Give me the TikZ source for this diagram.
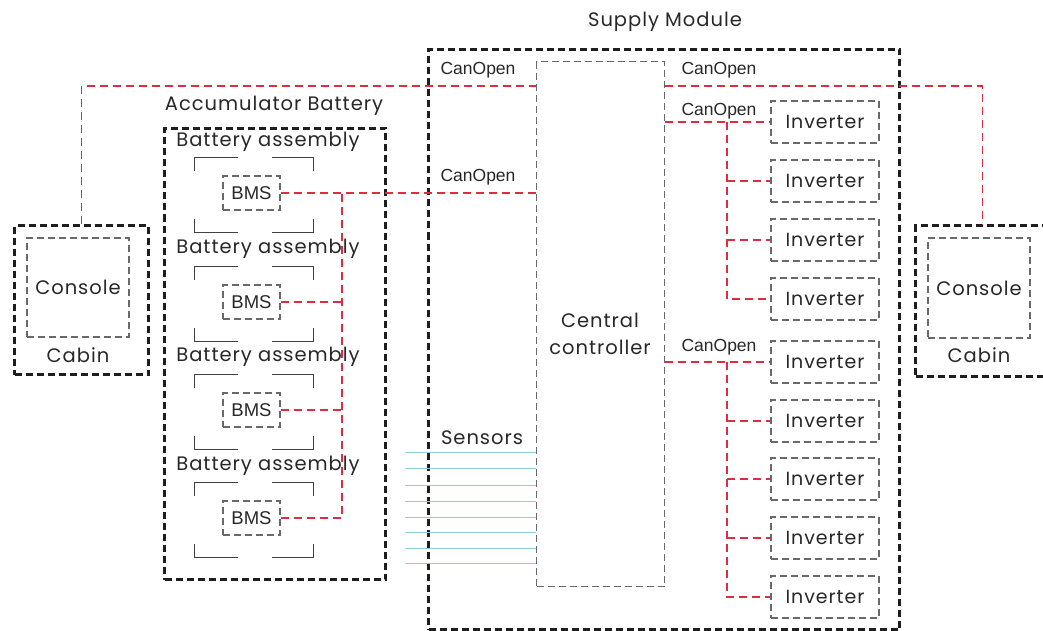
\documentclass[tikz,border=0pt]{standalone}
\usepackage{fontspec}
\setmainfont[LetterSpace=5]{Poppins}
\newfontfamily\arialf{Liberation Sans}
\usetikzlibrary{calc}
\definecolor{canred}{RGB}{222,45,65}
\definecolor{boxblack}{RGB}{30,30,30}
\definecolor{boxgray}{RGB}{105,105,105}
\definecolor{sensblue}{RGB}{150,205,220}
\definecolor{txt}{RGB}{40,40,40}
\tikzset{
  outerbox/.style={draw=boxblack, line width=3pt, dash pattern=on 7pt off 4pt, inner sep=0pt, anchor=north west},
  graybox/.style={draw=boxgray, line width=1.3pt, dash pattern=on 7pt off 4pt, inner sep=0pt},
  can/.style={draw=canred, line width=1.5pt, dash pattern=on 8pt off 5pt},
  sensor/.style={draw=sensblue, line width=1pt},
  bracket/.style={draw=black!75, line width=1.3pt},
  lbl/.style={text=txt, font=\fontsize{19.5}{21}\selectfont, inner sep=0pt},
  canlbl/.style={text=txt, font=\arialf\fontsize{17.5}{19}\selectfont, inner sep=0pt},
  inv/.style={graybox, minimum width=108pt, minimum height=42pt, text=txt, font=\fontsize{19}{21}\selectfont},
  bms/.style={graybox, minimum width=57pt, minimum height=34pt, text=txt, font=\arialf\fontsize{18.5}{20}\selectfont},
  assembly/.style={inner sep=0pt, minimum width=118pt, minimum height=74pt},
}
\begin{document}
\begin{tikzpicture}[x=1pt,y=-1pt]
\useasboundingbox (0,0) rectangle (1043,631);
\clip (0,0) rectangle (1043,631);
\fill[white] (0,0) rectangle (1043,631);

% Supply module
\node[lbl] (suplbl) at (665,22) {Supply Module};
\node[outerbox, minimum width=471pt, minimum height=580pt] (supply) at (427,48) {};
\node[graybox, anchor=north west, minimum width=128pt, minimum height=525pt] (cc) at (536,61) {};
\node[lbl, align=center, font=\fontsize{19.5}{27}\selectfont] (cctext) at (600,334) {Central\\controller};

% Accumulator battery
\node[lbl] (acclbl) at (274,106) {Accumulator Battery};
\node[outerbox, minimum width=221pt, minimum height=451pt] (acc) at (163,127) {};

\foreach \i/\y in {1/195,2/304,3/412,4/520}{
  \node[assembly] (ba\i) at (254,\y) {};
  \draw[bracket] ([yshift=-13pt]ba\i.north west) |- ([xshift=43pt]ba\i.north west);
  \draw[bracket] ([yshift=-13pt]ba\i.north east) |- ([xshift=-41pt]ba\i.north east);
  \draw[bracket] ([yshift=13pt]ba\i.south west) |- ([xshift=43pt]ba\i.south west);
  \draw[bracket] ([yshift=13pt]ba\i.south east) |- ([xshift=-41pt]ba\i.south east);
}
\foreach \i/\y in {1/142,2/249,3/357,4/466}{
  \node[lbl] (bt\i) at (268,\y) {Battery assembly};
}
\node[bms] (b1) at (251.5,193) {BMS};
\node[bms] (b2) at (251.5,302) {BMS};
\node[bms] (b3) at (251.5,410) {BMS};
\node[bms] (b4) at (251.5,518) {BMS};

% Consoles
\node[outerbox, minimum width=134pt, minimum height=149pt] (cabL) at (13,224) {};
\node[graybox, minimum width=102pt, minimum height=99pt, text=txt, font=\fontsize{19.5}{21}\selectfont] (conL) at (78,287.5) {Console};
\node[lbl] (cabLt) at (78,355) {Cabin};
\node[outerbox, minimum width=134pt, minimum height=151pt] (cabR) at (914,224) {};
\node[graybox, minimum width=102pt, minimum height=100pt, text=txt, font=\fontsize{19.5}{21}\selectfont] (conR) at (979,288) {Console};
\node[lbl] (cabRt) at (979,355) {Cabin};

% Inverters
\foreach \i/\y in {1/122,2/181,3/240,4/299,5/362,6/421,7/479,8/538,9/597}{
  \node[inv] (i\i) at (825,\y) {Inverter};
}

% CanOpen labels
\node[canlbl] (c1) at (478,70) {CanOpen};
\node[canlbl] (c2) at (478,177) {CanOpen};
\node[canlbl] (c3) at (719,70) {CanOpen};
\node[canlbl] (c4) at (719,111) {CanOpen};
\node[canlbl] (c5) at (719,347) {CanOpen};

% CAN connections
\coordinate (top) at ($(cc.north west)+(0,25)$);
\draw[can] (cabL.north) |- (top);
\draw[can] ($(cc.north east)+(0,25)$) -| (cabR.north);
\draw[can] (b1.east) -- (b1.east -| cc.west);
\coordinate (bus) at (342,0);
\draw[can] (b4.east) -| (bus |- b1.east);
\draw[can] (b2.east) -- (b2.east -| bus);
\draw[can] (b3.east) -- (b3.east -| bus);

\coordinate (ibus) at (727,0);
\draw[can] (i1.west -| cc.east) -- (i1.west);
\draw[can] (i1.west -| ibus) |- (i4.west);
\draw[can] (i2.west -| ibus) -- (i2.west);
\draw[can] (i3.west -| ibus) -- (i3.west);
\draw[can] (i5.west -| cc.east) -- (i5.west);
\draw[can] (i5.west -| ibus) |- (i9.west);
\foreach \i in {6,7,8}{
  \draw[can] (i\i.west -| ibus) -- (i\i.west);
}

% Sensors
\node[lbl] (sens) at (482,438) {Sensors};
\foreach \i/\y in {1/452,2/468,3/485,4/501,5/517,6/532,7/548,8/563}{
  \coordinate (s\i) at (405,\y);
  \draw[sensor] (s\i) -- (s\i -| cc.west);
}
\end{tikzpicture}
\end{document}
